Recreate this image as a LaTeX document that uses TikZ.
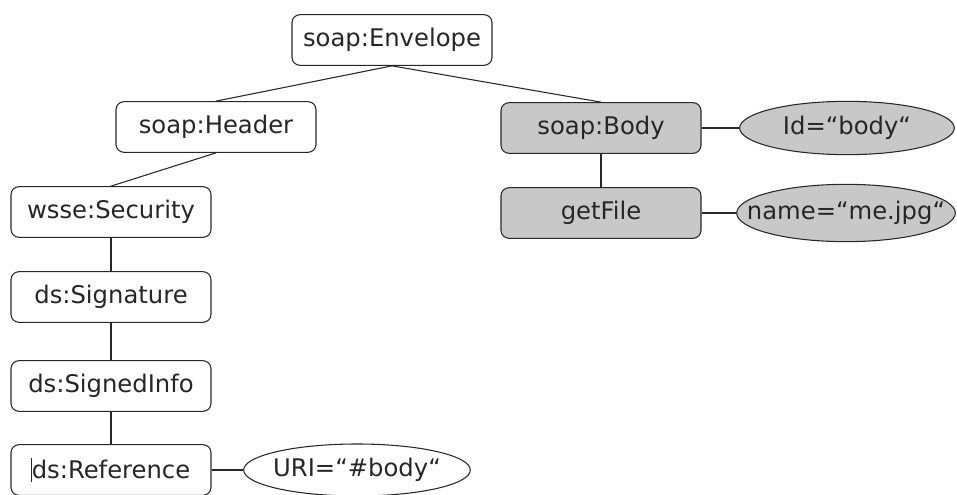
\documentclass[tikz,border=0pt]{standalone}
\usepackage{fontspec}
\setmainfont{DejaVu Sans}
\usetikzlibrary{shapes.geometric}
\definecolor{edgegray}{RGB}{40,40,40}
\definecolor{fillgray}{RGB}{200,200,200}
\newcommand{\attrtext}[1]{\makebox[0pt]{#1}}
\tikzset{
  elem/.style={draw=edgegray, line width=0.8pt, rounded corners=6pt,
    minimum width=150pt, minimum height=38pt, inner sep=0pt,
    font=\fontsize{18.2}{21}\selectfont, text=black!85},
  elemgray/.style={elem, fill=fillgray},
  attr/.style={ellipse, draw=edgegray, line width=0.8pt, inner sep=0pt,
    font=\fontsize{18.2}{21}\selectfont, text=black!85},
  link/.style={draw=edgegray, line width=0.8pt}
}
\begin{document}
\begin{tikzpicture}[x=0.75pt, y=-0.75pt]
  \useasboundingbox[fill=white] (0,0) rectangle (957,495);

  % element nodes
  \node[elem] (env) at (392,40) {soap:Envelope};
  \node[elem] (hdr) at (216,127) {soap:Header};
  \node[elemgray] (body) at (601,128) {soap:Body};
  \node[elemgray] (getf) at (601,213) {getFile};
  \node[elem] (sec) at (111,212) {wsse:Security};
  \node[elem] (sig) at (111,297) {ds:Signature};
  \node[elem] (sinfo) at (111,386) {ds:SignedInfo};
  \node[elem] (ref) at (111,470) {\llap{\rule[-3pt]{0.6pt}{18pt}}ds:Reference};

  % attribute ellipses
  \node[attr, fill=fillgray, minimum width=161pt, minimum height=40pt] (idattr) at (847,128) {\attrtext{Id=“body“}};
  \node[attr, fill=fillgray, minimum width=164pt, minimum height=43pt] (nameattr) at (846,213) {\attrtext{name=“me.jpg“}};
  \node[attr, fill=white, minimum width=170pt, minimum height=39pt] (uriattr) at (357,470) {\attrtext{URI=“\#body“}};

  % tree edges
  \draw[link] (env.south) -- (hdr.north);
  \draw[link] (env.south) -- (body.north);
  \draw[link] (hdr.south) -- (sec.north);
  \draw[link] (sec.south) -- (sig.north);
  \draw[link] (sig.south) -- (sinfo.north);
  \draw[link] (sinfo.south) -- (ref.north);
  \draw[link] (body.south) -- (getf.north);

  % attribute edges
  \draw[link] (body.east) -- (idattr.west);
  \draw[link] (getf.east) -- (nameattr.west);
  \draw[link] (ref.east) -- (uriattr.west);
\end{tikzpicture}
\end{document}
